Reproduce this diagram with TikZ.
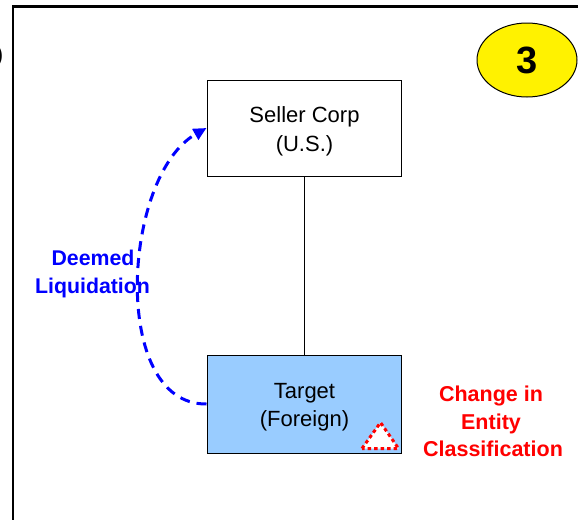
\documentclass[tikz,border=0pt]{standalone}
\usepackage{fontspec}
\setmainfont{Liberation Sans}
\usetikzlibrary{shapes.geometric,arrows.meta}
\definecolor{boxblue}{RGB}{153,204,255}
\tikzset{
  box/.style={draw=black, line width=1pt, minimum width=194pt, inner sep=0pt},
  txt/.style={anchor=base, inner sep=0pt, font=\fontsize{22}{22}\selectfont},
  bluetxt/.style={txt, text=blue, font=\fontsize{21.3}{21.3}\selectfont\bfseries},
  redtxt/.style={txt, text=red, font=\fontsize{21.5}{21.5}\selectfont\bfseries},
  frame/.style={line width=2.5pt, black},
  loopline/.style={blue, line width=3pt, dash pattern=on 10pt off 7pt,
    -{Triangle[length=13pt,width=12pt]}},
}
\begin{document}
\begin{tikzpicture}[x=1pt,y=-1pt]
\useasboundingbox (0,0) rectangle (578,520);
\fill[white] (0,0) rectangle (578,520);
% frame lines
\draw[frame] (13,6.5) -- (578,6.5);
\draw[frame] (13,5.25) -- (13,520);
\node[anchor=base east, inner sep=0pt, font=\fontsize{24}{24}\selectfont] (paren) at (3.5,62) {)};
% number ellipse
\node[ellipse, draw=black, line width=1pt, fill=yellow, minimum width=100pt, minimum height=74pt, inner sep=0pt] (num) at (527,60) {};
\node[anchor=base, inner sep=0pt, font=\fontsize{38}{38}\selectfont\bfseries] (numtxt) at (527,73.5) {3};
% boxes
\node[box, fill=white, minimum height=96pt] (seller) at (304,128) {};
\node[box, fill=boxblue, minimum height=98pt] (target) at (304,404) {};
\node[txt] (s1) at (304.5,122.5) {Seller Corp};
\node[txt] (s2) at (304.5,151) {(U.S.)};
\node[txt] (t1) at (304.5,398) {Target};
\node[txt] (t2) at (304.5,426) {(Foreign)};
% connector
\draw[line width=1pt] (seller.south) -- (target.north);
% deemed liquidation loop
\draw[loopline] (target.west) .. controls (110,405) and (122,176) .. (seller.west);
\node[bluetxt] (d1) at (93,265) {Deemed};
\node[bluetxt] (d2) at (92.5,293) {Liquidation};
% change in entity classification
\draw[red, fill=white, line width=3pt, dash pattern=on 3.5pt off 3pt] (362,448.5) -- (380.5,422.5) -- (398.5,448.5) -- cycle;
\node[redtxt] (c1) at (491,401.5) {Change in};
\node[redtxt] (c2) at (491,429) {Entity};
\node[redtxt] (c3) at (493,456.5) {Classification};
\end{tikzpicture}
\end{document}
